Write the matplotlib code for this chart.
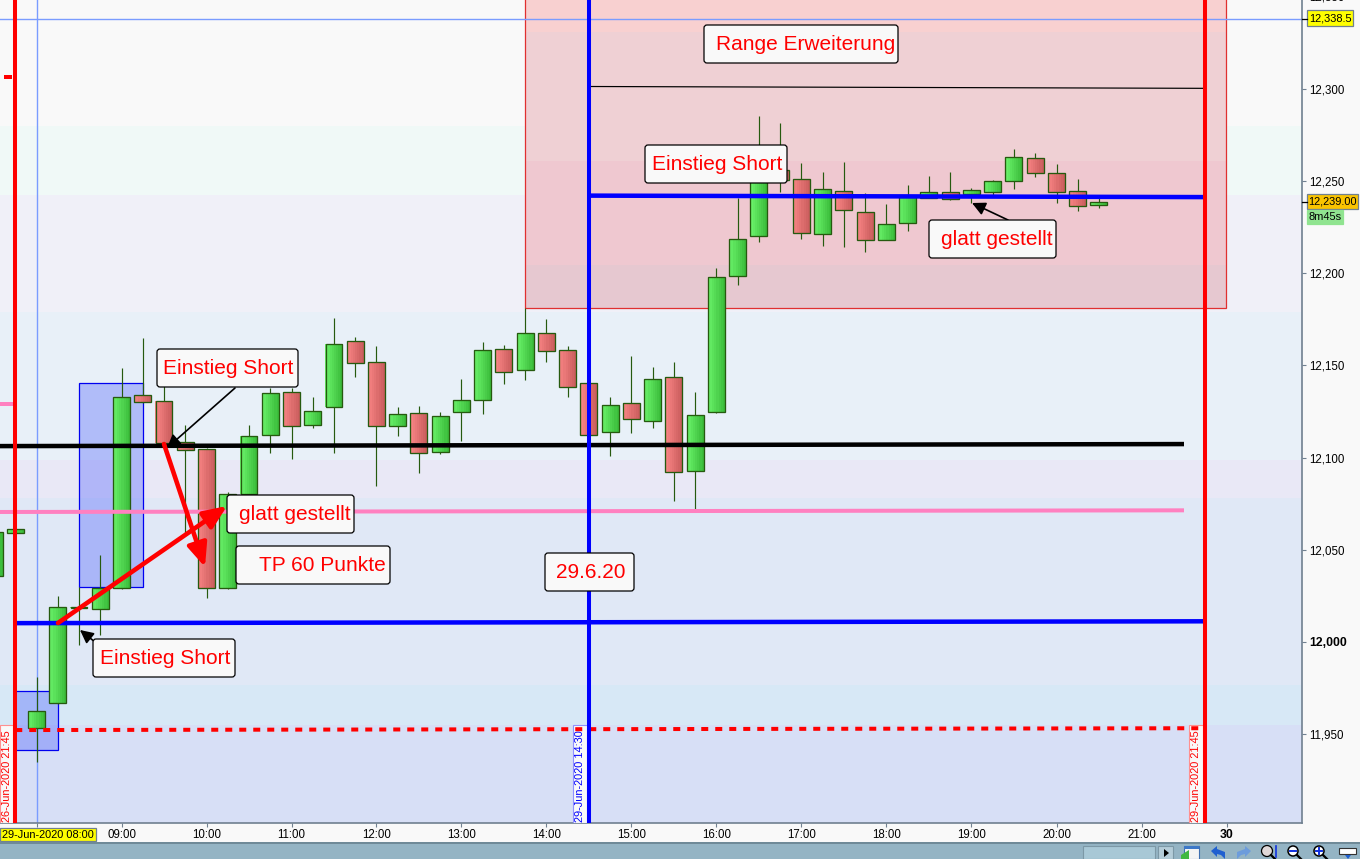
import matplotlib
matplotlib.use("Agg")
import matplotlib.pyplot as plt
from matplotlib.patches import Rectangle, FancyBboxPatch, Circle, Polygon
from matplotlib.transforms import Affine2D
import numpy as np

plt.rcParams["font.family"] = ["Liberation Sans", "DejaVu Sans"]

# Candles, 15 minute slots counted from 29-Jun 08:00
slots = list(range(-2, 51))
opens = [12035.5, 12059, 11953, 11966.5, 12018, 12017.5, 12029, 12134, 12130.5, 12108.5, 12104.5, 12029,
         12080, 12112.5, 12135.5, 12117.5, 12127.5, 12163.5, 12152, 12117, 12124, 12103, 12125, 12131.5,
         12159, 12147.5, 12167.5, 12158.5, 12140.5, 12114, 12129.5, 12120, 12143.5, 12092.5, 12125, 12198.5,
         12220.5, 12256, 12251.5, 12221.5, 12245, 12233.5, 12218, 12227.5, 12241, 12244, 12243, 12244,
         12250, 12262.5, 12254.5, 12245, 12237]
closes = [12059.5, 12061, 11962.5, 12018.5, 12018.5, 12029, 12133, 12130, 12108, 12104, 12029, 12080,
          12111.5, 12135, 12117, 12125, 12161.5, 12151.5, 12117, 12123.5, 12102.5, 12122.5, 12131, 12158.5,
          12146.5, 12167.5, 12158, 12138.5, 12112, 12128.5, 12121, 12142.5, 12092, 12123, 12198, 12218.5,
          12255, 12251, 12222, 12246, 12234.5, 12218, 12227, 12241.5, 12244, 12240.5, 12245.5, 12250,
          12263.5, 12254.5, 12244, 12236.5, 12239]
highs = [12062, 12062, 11981, 12025, 12029.5, 12047, 12148.5, 12165, 12139.5, 12117.5, 12105, 12081,
         12117.5, 12138, 12138, 12133, 12176, 12165.5, 12160.5, 12127.5, 12128, 12124.5, 12142.5, 12162.5,
         12161, 12181, 12175, 12160.5, 12141, 12133, 12155, 12149, 12152, 12135.5, 12203, 12241,
         12285.5, 12281.5, 12260, 12255, 12260.5, 12243.5, 12237.5, 12248, 12253, 12255, 12246.5, 12251,
         12267.5, 12265.5, 12259.5, 12251.5, 12241]
lows = [12030, 12058, 11934.5, 11966, 11998, 12003.5, 12028.5, 12129.5, 12107, 12058, 12023.5, 12028.5,
        12079.5, 12102.5, 12099, 12116, 12102.5, 12144, 12084.5, 12111.5, 12091.5, 12102, 12109, 12123.5,
        12140, 12142, 12152, 12133, 12112, 12101, 12113.5, 12116, 12076.5, 12072, 12124, 12194,
        12217, 12244, 12218.5, 12215, 12214.5, 12211.5, 12218, 12223, 12241, 12240, 12238.5, 12242.5,
        12246, 12252.5, 12238.5, 12234, 12235.5]

# Price axis
price_ticks = [12300, 12250, 12200, 12150, 12100, 12050, 12000, 11950]
price_labels = ["12,300", "12,250", "12,200", "12,150", "12,100", "12,050", "12,000", "11,950"]
hour_ticks = [8, 9, 10, 11, 12, 13, 14, 15, 16, 17, 18, 19, 20, 21, 22]
hour_labels = ["", "09:00", "10:00", "11:00", "12:00", "13:00", "14:00", "15:00", "16:00", "17:00", "18:00",
               "19:00", "20:00", "21:00", "30"]

# Background bands (upper price, lower price, colour)
band_edges = [12348.6, 12280.1, 12242.6, 12179, 12098.6, 12077.9, 11976.3, 11954.6, 11901.4]
band_colors = ["#F9F9F9", "#F0F9F7", "#F0F0F8", "#E8F0F8", "#E9E8F6", "#E0E8F6", "#D7E8F6", "#D7DFF6"]
range_edges = [12348.6, 12331.2, 12261.1, 12204.6, 12181.2]
range_colors = ["#F8D0D0", "#EFD0D4", "#EFC8D0", "#E6C8D0"]

# Drawn lines: start hour, end hour, start price, end price
black_line = (7.57, 21.5, 12106.2, 12107.3)
pink_line = (7.57, 21.5, 12070.4, 12071.3)
pink_stub = (7.57, 7.75, 12129, 12129)
blue_low = (7.75, 21.75, 12010, 12011)
blue_high = (14.5, 21.75, 12242.3, 12241.5)
thin_black = (14.5, 21.75, 12301.6, 12300.6)
red_dashed = (7.75, 21.75, 11951.9, 11952.9)
red_mark = (7.62, 7.71, 12306.8, 12306.8)

SLATE = "#708090"
EDGE = "#265A0F"
TICK_FONT = 8.3

fig = plt.figure(figsize=(13.6, 8.59), dpi=100, facecolor="#F9F9F9")
ax = fig.add_axes([0, 36 / 859, 1302 / 1360, 823 / 859])

# pixel coordinates with origin top left, same as the screenshot
px = Affine2D().scale(1, -1).translate(0, 859)

for k, col in enumerate(band_colors):
    ax.axhspan(band_edges[k + 1], band_edges[k], color=col, lw=0, zorder=0)
for k, col in enumerate(range_colors):
    ax.add_patch(Rectangle((13.75, range_edges[k + 1]), 8.25, range_edges[k] - range_edges[k + 1],
                           facecolor=col, lw=0, zorder=0.5))
ax.add_patch(Rectangle((13.75, 12181.2), 8.25, 200, fill=False, edgecolor="#E03030", lw=0.9, zorder=0.6))

# crosshair
ax.axvline(8, color="#7A9CFF", lw=1.0, zorder=1)
ax.axhline(12338.5, color="#7A9CFF", lw=1.0, zorder=1)

# blue boxes behind the candles
ax.add_patch(Rectangle((8.5, 12029.5), 0.75, 111, facecolor=(0.0, 0.1, 1.0, 0.24), edgecolor="#0000F0", lw=0.9, zorder=1.5))
ax.add_patch(Rectangle((7.75, 11941), 0.5, 32, facecolor=(0.0, 0.1, 1.0, 0.24), edgecolor="#0000F0", lw=0.9, zorder=1.5))


def draw_candle(slot, o, c, h, l):
    x = 8 + slot * 0.25
    if c >= o:
        left, right = np.array([0x68, 0xF0, 0x68]), np.array([0x3C, 0xBE, 0x3C])
    else:
        left, right = np.array([0xF6, 0x82, 0x82]), np.array([0xCB, 0x5E, 0x5E])
    ax.vlines(x, l, h, color=EDGE, lw=0.85, zorder=2)
    bottom, height = min(o, c), abs(c - o)
    strips = 8
    w = 0.2 / strips
    for s in range(strips):
        col = (left + (right - left) * s / (strips - 1)) / 255
        ax.bar(x - 0.1 + (s + 0.5) * w, height, w * 1.05, bottom=bottom, color=col, lw=0, zorder=2.1)
    ax.add_patch(Rectangle((x - 0.1, bottom), 0.2, height, fill=False, edgecolor=EDGE, lw=0.95, zorder=2.2))


for slot, o, c, h, l in zip(slots, opens, closes, highs, lows):
    draw_candle(slot, o, c, h, l)


def draw_line(spec, color, width, z, **kw):
    ax.plot(spec[:2], spec[2:], color=color, lw=width * 0.72, zorder=z, solid_capstyle="butt", **kw)


draw_line(pink_stub, "#FF80C0", 4, 3)
draw_line(pink_line, "#FF80C0", 4, 3)
draw_line(black_line, "black", 4.5, 3.1)
draw_line(blue_low, "#0000FF", 4.5, 3.2)
draw_line(blue_high, "#0000FF", 4.5, 3.2)
draw_line(thin_black, "black", 1.2, 3.2)
draw_line(red_mark, "#FF0000", 4, 3.2)

# vertical date labels, under the dashed line and the verticals
for x0, x1, txt, col, edge in [(0, 13, "26-Jun-2020 21:45", "#FF0000", "#FF9090"),
                               (572.5, 587, "29-Jun-2020 14:30", "#0000FF", "#9090FF"),
                               (1188.5, 1203, "29-Jun-2020 21:45", "#FF0000", "#FF9090")]:
    ax.add_patch(Rectangle((x0, 724.5), x1 - x0, 98.5, transform=px, facecolor="#F9F9F9", edgecolor=edge, lw=0.8, zorder=3.3))
    ax.text((x0 + x1) / 2 + 0.5, 822, txt, transform=px, rotation=90, color=col, fontsize=7.9,
            ha="center", va="bottom", zorder=3.35)

draw_line(red_dashed, "#FF0000", 4, 3.4, dashes=(1.75, 1.75))
ax.axvline(7.75, color="#FF0000", lw=2.9, zorder=3.5)
ax.axvline(21.75, color="#FF0000", lw=2.9, zorder=3.5)
ax.axvline(14.5, color="#0000FF", lw=2.9, zorder=3.5)

# arrows
for tip, tail in [((227, 506), (58, 623)), ((205, 567), (164, 444))]:
    ax.annotate("", xy=tip, xytext=tail, xycoords=px, textcoords=px, zorder=4,
                arrowprops=dict(arrowstyle="-|>,head_length=14,head_width=6", mutation_scale=1, color="#FF0000",
                                lw=3.3, shrinkA=0, shrinkB=0))
for tip, tail in [((167, 448), (235, 388)), ((80, 630), (95, 642)), ((972, 203), (1008, 220))]:
    ax.annotate("", xy=tip, xytext=tail, xycoords=px, textcoords=px, zorder=4,
                arrowprops=dict(arrowstyle="-|>,head_length=8,head_width=4", mutation_scale=1, color="black",
                                lw=1.2, shrinkA=0, shrinkB=0))

# comment boxes: text, x0, y0, x1, y1, text start
comments = [("Einstieg Short", 157, 349, 298, 387, 163),
            ("glatt gestellt", 227, 495, 354, 533, 239),
            ("TP 60 Punkte", 236, 546, 390, 584, 259),
            ("Einstieg Short", 93, 639, 235, 677, 100),
            ("29.6.20", 545, 553, 634, 591, 556),
            ("Range Erweiterung", 704, 25, 898, 63, 716),
            ("Einstieg Short", 645, 145, 787, 183, 652),
            ("glatt gestellt", 929, 220, 1056, 258, 941)]
for txt, x0, y0, x1, y1, tx in comments:
    r = 3
    ax.add_patch(FancyBboxPatch((x0 + r, y0 + r), x1 - x0 - 2 * r, y1 - y0 - 2 * r, transform=px,
                                boxstyle=f"round,pad={r},rounding_size={r}", mutation_scale=1,
                                facecolor="#F9F9F9", edgecolor="black", lw=0.9, zorder=5))
    ax.text(tx, (y0 + y1) / 2 + 0.5, txt, transform=px, color="#FF0000", fontsize=15.0, ha="left", va="center", zorder=6)

# axes
for side in ["top", "left"]:
    ax.spines[side].set_visible(False)
for side in ["right", "bottom"]:
    ax.spines[side].set_color(SLATE)
    ax.spines[side].set_linewidth(1.2)
ax.yaxis.tick_right()
ax.set_yticks(price_ticks, price_labels, fontsize=TICK_FONT, color="black")
ax.set_xticks(hour_ticks, hour_labels, fontsize=TICK_FONT, color="black")
ax.tick_params(axis="both", length=3, width=0.8, color=SLATE, pad=2.2)
ax.tick_params(axis="x", pad=1.5)
ax.get_yticklabels()[6].set_fontweight("bold")
ax.get_yticklabels()[6].set_fontsize(8.8)
ax.get_xticklabels()[-1].set_fontweight("bold")
ax.get_xticklabels()[-1].set_fontsize(8.8)
ax.set_xlim(8 - 36.5 / 85, 8 + (1302 - 36.5) / 85)
ax.set_ylim(11901.4, 12348.6)

# top tick label sits just past the edge of the screen
fig.text(1309, -2.6, "12,350", transform=px, fontsize=TICK_FONT, ha="left", va="center")


def flag(x0, y0, x1, y1, txt, face, edge=SLATE):
    fig.add_artist(Rectangle((x0, y0), x1 - x0, y1 - y0, transform=px, facecolor=face, edgecolor=edge, lw=0.9))
    fig.text((x0 + x1) / 2, (y0 + y1) / 2 + 0.3, txt, transform=px, fontsize=7.9, ha="center", va="center")


flag(1307, 10, 1353, 26, "12,338.5", "#FFFF00")
flag(1307, 194, 1358, 209, "12,239.00", "#FAC400")
flag(1307, 210, 1343, 224, "8m45s", "#90E490", edge="#90E490")
flag(0, 828, 95.5, 841, "29-Jun-2020 08:00", "#FFFF00")
for y in [18.5, 202]:
    fig.add_artist(plt.Line2D([1302, 1307], [y, y], transform=px, color="black", lw=0.9))

# toolbar strip along the bottom
fig.add_artist(Rectangle((0, 842), 1360, 17, transform=px, facecolor="#94B4C4", lw=0))
fig.add_artist(Rectangle((0, 842), 1360, 1.5, transform=px, facecolor="#6F8A98", lw=0))
fig.add_artist(Rectangle((1083, 846), 72, 13, transform=px, facecolor="#A8C8D6", edgecolor="#7C98A6", lw=0.8))
fig.add_artist(Rectangle((1158, 846), 15, 13, transform=px, facecolor="#B4CCD8", edgecolor="#7C98A6", lw=0.8))
fig.add_artist(Polygon([(1164, 849), (1169, 853), (1164, 857)], transform=px, facecolor="black", lw=0))
fig.add_artist(Rectangle((1184, 846), 15, 13, transform=px, facecolor="#F4F4F4", edgecolor="#4070B0", lw=0.8))
fig.add_artist(Rectangle((1184, 846), 15, 3, transform=px, facecolor="#3C78C8", lw=0))
fig.add_artist(Polygon([(1181, 855), (1189, 850), (1189, 859), (1181, 859)], transform=px, facecolor="#40B840", lw=0))
fig.add_artist(Polygon([(1211, 851), (1217, 846), (1217, 849), (1225, 852), (1225, 859), (1221, 855), (1217, 854), (1217, 857)],
                       transform=px, facecolor="#2060D0", lw=0))
fig.add_artist(Polygon([(1251, 851), (1245, 846), (1245, 849), (1237, 852), (1237, 859), (1241, 855), (1245, 854), (1245, 857)],
                       transform=px, facecolor="#6C9CDC", lw=0))
fig.add_artist(Circle((1267, 851), 5.5, transform=px, facecolor="#E0D8D8", edgecolor="black", lw=0.9))
fig.add_artist(plt.Line2D([1276, 1276], [846, 857], transform=px, color="#1030E0", lw=1.2))
fig.add_artist(plt.Line2D([1271, 1275], [855, 859], transform=px, color="black", lw=1.6))
for cx, sign in [(1293, "-"), (1319, "+")]:
    fig.add_artist(Circle((cx, 851), 5, transform=px, facecolor="white", edgecolor="black", lw=1.1))
    fig.add_artist(plt.Line2D([cx - 3, cx + 3], [851, 851], transform=px, color="#1030E0", lw=1.4))
    if sign == "+":
        fig.add_artist(plt.Line2D([cx, cx], [848, 854], transform=px, color="#1030E0", lw=1.4))
    fig.add_artist(plt.Line2D([cx + 4, cx + 8], [855, 859], transform=px, color="black", lw=1.6))
fig.add_artist(Rectangle((1339, 848), 17, 6, transform=px, facecolor="white", edgecolor="#333333", lw=0.8))
fig.add_artist(Polygon([(1345, 855), (1351, 855), (1348, 859)], transform=px, facecolor="#2060D0", lw=0))

fig.savefig("out.png", dpi=100, facecolor=fig.get_facecolor())
